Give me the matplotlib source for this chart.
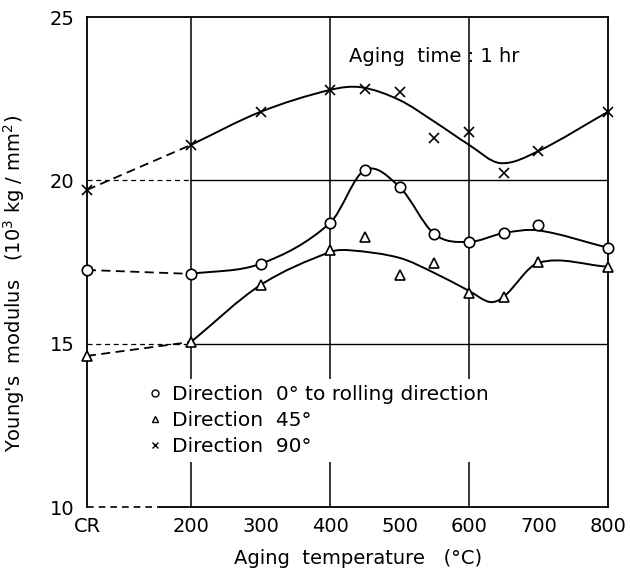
import numpy as np
import matplotlib.pyplot as plt
from matplotlib.path import Path
from matplotlib.patches import PathPatch
from matplotlib.lines import Line2D

CR = 50  # where the "CR" (as cold rolled) column sits on the temperature axis

temps = [CR, 200, 300, 400, 450, 500, 550, 600, 650, 700, 800]
e_0deg = [17.26, 17.14, 17.45, 18.7, 20.32, 19.8, 18.36, 18.12, 18.39, 18.64, 17.94]
e_45deg = [14.63, 15.06, 16.8, 17.87, 18.27, 17.11, 17.48, 16.56, 16.44, 17.5, 17.36]
e_90deg = [19.71, 21.09, 22.1, 22.77, 22.8, 22.7, 21.3, 21.48, 20.23, 20.9, 22.1]

# hand drawn guide curves, knots
curve0_x = [200, 300, 400, 450, 500, 550, 600, 650, 700, 800]
curve0_y = [17.14, 17.45, 18.7, 20.32, 19.8, 18.36, 18.12, 18.39, 18.47, 17.94]
curve45_x = [200, 300, 400, 430, 500, 550, 600, 630, 650, 700, 800]
curve45_y = [15.06, 16.8, 17.81, 17.86, 17.63, 17.17, 16.62, 16.28, 16.44, 17.48, 17.36]
curve90_x = [200, 300, 400, 445, 500, 550, 600, 645, 700, 800]
curve90_y = [21.09, 22.1, 22.77, 22.85, 22.46, 21.8, 21.09, 20.53, 20.9, 22.1]

xtick_pos = [CR, 200, 300, 400, 500, 600, 700, 800]
xtick_labels = ['CR', '200', '300', '400', '500', '600', '700', '800']
ytick_pos = [10, 15, 20, 25]


def smooth_path(xs, ys):
    # cubic hermite curve y(x), rendered as bezier segments by matplotlib
    xs = np.asarray(xs, float)
    ys = np.asarray(ys, float)
    n = len(xs)
    m = np.empty(n)
    m[0] = (ys[1] - ys[0]) / (xs[1] - xs[0])
    m[-1] = (ys[-1] - ys[-2]) / (xs[-1] - xs[-2])
    for i in range(1, n - 1):
        m[i] = (ys[i + 1] - ys[i - 1]) / (xs[i + 1] - xs[i - 1])
    verts = [(xs[0], ys[0])]
    codes = [Path.MOVETO]
    for i in range(n - 1):
        dx = (xs[i + 1] - xs[i]) / 3
        verts += [(xs[i] + dx, ys[i] + dx * m[i]),
                  (xs[i + 1] - dx, ys[i + 1] - dx * m[i + 1]),
                  (xs[i + 1], ys[i + 1])]
        codes += [Path.CURVE4] * 3
    return Path(verts, codes)


fig = plt.figure(figsize=(6.3, 5.68), dpi=100)
ax = fig.add_axes([0.138, 0.107, 0.827, 0.863])
ax.set_xlim(CR, 800)
ax.set_ylim(10, 25)

# frame / grid, dashed where the CR column breaks the scale
for s in ['top', 'left', 'right', 'bottom']:
    ax.spines[s].set_linewidth(1.3)
ax.spines['bottom'].set_bounds(155, 800)
ax.plot([CR, 155], [10, 10], color='k', lw=1.2, ls=(0, (4, 3)), clip_on=False)
for yv in [15, 20]:
    ax.plot([CR, 200], [yv, yv], color='k', lw=0.9, ls=(0, (4, 3)))
    ax.plot([200, 800], [yv, yv], color='k', lw=1.0)
for xv in [200, 400, 600]:
    ax.plot([xv, xv], [10, 25], color='k', lw=1.1)

# dashed links from CR
for ev in [e_0deg, e_45deg, e_90deg]:
    ax.plot([CR, 200], [ev[0], ev[1]], color='k', lw=1.3, ls=(0, (5, 3)))

for cx, cy in [(curve0_x, curve0_y), (curve45_x, curve45_y), (curve90_x, curve90_y)]:
    ax.add_patch(PathPatch(smooth_path(cx, cy), fill=False, color='k', lw=1.4))

ax.plot(temps, e_0deg, 'o', ls='none', mfc='white', mec='k', ms=7.5, mew=1.2, zorder=4, clip_on=False)
ax.plot(temps, e_45deg, '^', ls='none', mfc='white', mec='k', ms=7.5, mew=1.2, zorder=4, clip_on=False)
ax.plot(temps, e_90deg, 'x', ls='none', color='k', ms=7, mew=1.2, zorder=4, clip_on=False)

ax.set_xticks(xtick_pos)
ax.set_xticklabels(xtick_labels)
ax.set_xticks([300, 500, 700], minor=True)
ax.set_yticks(ytick_pos)
ax.tick_params(axis='both', which='major', length=0, labelsize=14)
ax.tick_params(axis='x', which='major', pad=7)
ax.tick_params(axis='y', which='major', pad=9)
ax.tick_params(axis='x', which='minor', direction='in', length=7, width=1.2)

ax.set_xlabel('Aging  temperature   (°C)', fontsize=14)
ax.xaxis.set_label_coords(0.52, -0.085)
ax.set_ylabel("Young's  modulus   (10$^3$ kg / mm$^2$)", fontsize=14)
ax.yaxis.set_label_coords(-0.115, 0.457)

ax.text(427, 23.78, 'Aging  time : 1 hr', fontsize=14, va='center', ha='left')

handles = [
    Line2D([], [], marker='o', ls='none', mfc='white', mec='k', ms=5, mew=1.0),
    Line2D([], [], marker='^', ls='none', mfc='white', mec='k', ms=5, mew=1.0),
    Line2D([], [], marker='x', ls='none', color='k', ms=5, mew=1.0),
]
labels = ['Direction  0° to rolling direction', 'Direction  45°', 'Direction  90°']
ax.legend(handles, labels, loc='upper left', bbox_to_anchor=(0.108, 0.262),
          fontsize=14.5, frameon=True, facecolor='white', edgecolor='none',
          framealpha=1, handlelength=0.6, handletextpad=0.55,
          labelspacing=0.36, borderpad=0.3, borderaxespad=0)

fig.savefig('out.png', dpi=100)
